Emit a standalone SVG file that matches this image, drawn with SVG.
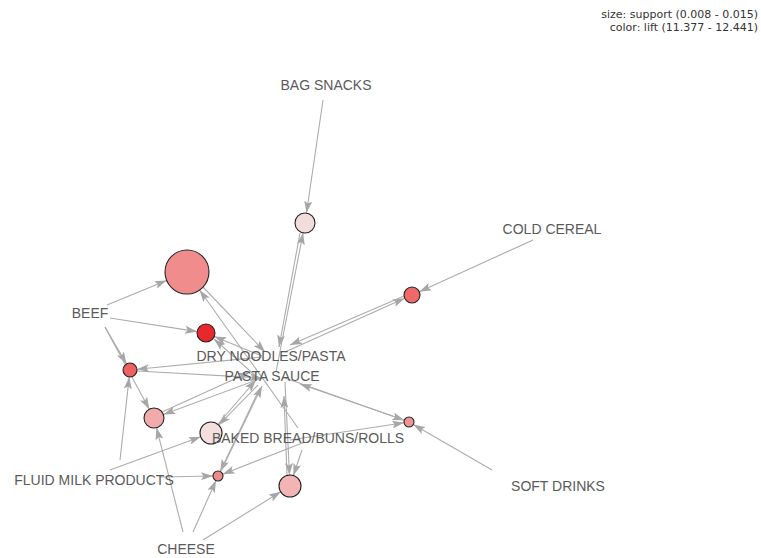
<svg xmlns="http://www.w3.org/2000/svg" width="761" height="558" viewBox="0 0 761 558">
  <defs>
    <marker id="arrow" viewBox="0 0 12 8" markerWidth="12" markerHeight="8" refX="12" refY="4" orient="auto" markerUnits="userSpaceOnUse">
      <path d="M0,0 L12,4 L0,8 L2.5,4 z" fill="#a6a6a6"/>
    </marker>
  </defs>
  <style>
    .e { stroke: #acacac; stroke-width: 1.1; fill: none; marker-end: url(#arrow); }
    .rule { stroke: #222; stroke-width: 1.1; }
    .item { font-family: "Liberation Sans", Arial, sans-serif; font-size: 14px; fill: #5a5a5a; text-anchor: middle; }
    .legend { font-family: "DejaVu Sans", Verdana, sans-serif; font-size: 11px; fill: #333; text-anchor: end; }
  </style>
  <rect width="761" height="558" fill="#fff"/>

  <g id="legend">
    <text class="legend" x="758" y="18">size: support (0.008 - 0.015)</text>
    <text class="legend" x="758" y="31">color: lift (11.377 - 12.441)</text>
  </g>

  <g id="edges">
    <!-- outer items into rules -->
    <line class="e" x1="323" y1="100" x2="306.5" y2="213"/>
    <line class="e" x1="533" y1="240" x2="419.3" y2="291.7"/>
    <line class="e" x1="492" y1="470" x2="413.3" y2="424.5"/>
    <line class="e" x1="107" y1="305" x2="166.6" y2="280.4"/>
    <line class="e" x1="110" y1="318" x2="197.1" y2="331.6"/>
    <line class="e" x1="105" y1="327" x2="126.5" y2="363.9"/>
    <line class="e" x1="105" y1="327" x2="149.3" y2="409.2"/>
    <line class="e" x1="120" y1="460" x2="129.2" y2="377"/>
    <line class="e" x1="110" y1="470" x2="200.7" y2="436.8"/>
    <line class="e" x1="160" y1="477" x2="213" y2="476"/>
    <line class="e" x1="183" y1="532" x2="156.5" y2="427.7"/>
    <line class="e" x1="193" y1="532" x2="216" y2="480.6"/>
    <line class="e" x1="203" y1="540" x2="280.7" y2="491.8"/>

    <!-- central items and rules -->
    <line class="e" x1="298" y1="428" x2="199.6" y2="290"/>
    <line class="e" x1="203" y1="287" x2="265" y2="352"/>
    <line class="e" x1="262" y1="356" x2="214.3" y2="336.4"/>
    <line class="e" x1="258" y1="378" x2="214" y2="339"/>
    <line class="e" x1="276" y1="372" x2="303.1" y2="232.8"/>
    <line class="e" x1="300" y1="233" x2="279" y2="347"/>
    <line class="e" x1="285" y1="352" x2="404.7" y2="298.3"/>
    <line class="e" x1="404" y1="296" x2="290" y2="345"/>
    <line class="e" x1="262" y1="357" x2="137" y2="369.3"/>
    <line class="e" x1="137" y1="371" x2="262" y2="378"/>
    <line class="e" x1="262" y1="378" x2="163.4" y2="414.5"/>
    <line class="e" x1="162" y1="412" x2="250" y2="372"/>
    <line class="e" x1="258" y1="385" x2="218.7" y2="425.1"/>
    <line class="e" x1="218" y1="424" x2="256" y2="380"/>
    <line class="e" x1="260" y1="388" x2="220.2" y2="471.5"/>
    <line class="e" x1="221" y1="471" x2="262" y2="386"/>
    <line class="e" x1="305" y1="442" x2="222.7" y2="474.2"/>
    <line class="e" x1="285" y1="382" x2="289.5" y2="475"/>
    <line class="e" x1="287" y1="475" x2="284" y2="396"/>
    <line class="e" x1="302" y1="450" x2="293.4" y2="475.5"/>
    <line class="e" x1="285" y1="378" x2="404.3" y2="420.3"/>
    <line class="e" x1="404" y1="420" x2="300" y2="384"/>
    <line class="e" x1="290" y1="440" x2="404.1" y2="422.8"/>
  </g>

  <g id="rule1"><circle class="rule" cx="187" cy="272" r="22" fill="#f08c8c"/></g>
  <g id="rule2"><circle class="rule" cx="206" cy="333" r="9" fill="#e8282c"/></g>
  <g id="rule3"><circle class="rule" cx="305" cy="223" r="10" fill="#f3dcdc"/></g>
  <g id="rule4"><circle class="rule" cx="412" cy="295" r="8" fill="#ee6a6a"/></g>
  <g id="rule5"><circle class="rule" cx="130" cy="370" r="7" fill="#ec6262"/></g>
  <g id="rule6"><circle class="rule" cx="154" cy="418" r="10" fill="#f2aaaa"/></g>
  <g id="rule7"><circle class="rule" cx="211" cy="433" r="11" fill="#f4dede"/></g>
  <g id="rule8"><circle class="rule" cx="218" cy="476" r="5" fill="#ef8a8a"/></g>
  <g id="rule9"><circle class="rule" cx="290" cy="486" r="11" fill="#f2b4b4"/></g>
  <g id="rule10"><circle class="rule" cx="409" cy="422" r="5" fill="#ef9494"/></g>

  <g id="item-bag-snacks"><text class="item" x="326" y="90">BAG SNACKS</text></g>
  <g id="item-cold-cereal"><text class="item" x="552" y="234">COLD CEREAL</text></g>
  <g id="item-beef"><text class="item" x="90" y="318">BEEF</text></g>
  <g id="item-dry-noodles"><text class="item" x="271" y="361">DRY NOODLES/PASTA</text></g>
  <g id="item-pasta-sauce"><text class="item" x="272" y="381">PASTA SAUCE</text></g>
  <g id="item-baked-bread"><text class="item" x="308" y="443">BAKED BREAD/BUNS/ROLLS</text></g>
  <g id="item-fluid-milk"><text class="item" x="94" y="485">FLUID MILK PRODUCTS</text></g>
  <g id="item-soft-drinks"><text class="item" x="558" y="491">SOFT DRINKS</text></g>
  <g id="item-cheese"><text class="item" x="186" y="554">CHEESE</text></g>
</svg>
